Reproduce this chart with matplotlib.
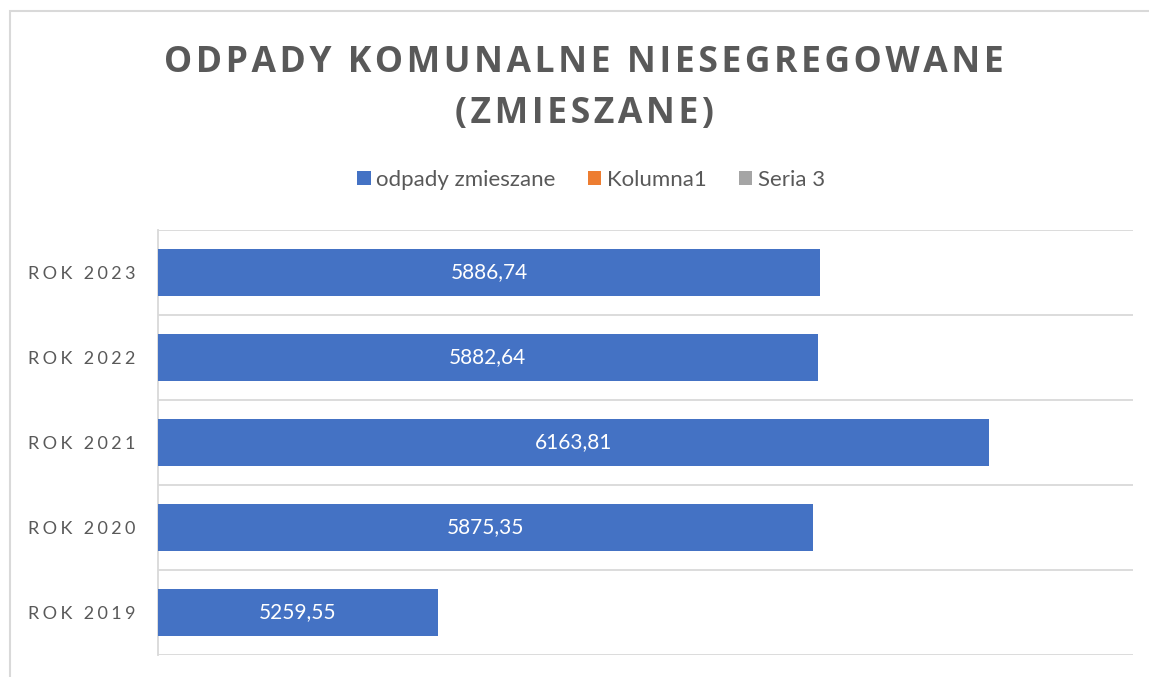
import matplotlib
matplotlib.use('Agg')
import matplotlib.pyplot as plt
from matplotlib.patches import Patch, Rectangle

# data
years = ['ROK 2019', 'ROK 2020', 'ROK 2021', 'ROK 2022', 'ROK 2023']
values = [5259.55, 5875.35, 6163.81, 5882.64, 5886.74]
series_names = ['odpady zmieszane', 'Kolumna1', 'Seria 3']
series_colors = ['#4472C4', '#ED7D31', '#A5A5A5']

grey_txt = '#595959'
grid_col = '#D9D9D9'


def spaced(s, sep='\u2009'):
    # fake letter spacing like in the Excel chart
    return sep.join(list(s))


fig = plt.figure(figsize=(11.49, 6.77), dpi=100, facecolor='white')
ax = fig.add_axes([158 / 1149, 1 - 655 / 677, (1133 - 158) / 1149, (655 - 230) / 677])

y = list(range(len(years)))
ax.barh(y, values, height=0.55, color=series_colors[0], zorder=3)
ax.set_xlim(4800, 6400)
ax.set_ylim(-0.5, len(years) - 0.5)

# category separators
for b in [i - 0.5 for i in range(len(years) + 1)]:
    ax.axhline(b, color=grid_col, lw=1.3, zorder=1)

for sp in ['top', 'right', 'bottom']:
    ax.spines[sp].set_visible(False)
ax.spines['left'].set_color(grid_col)
ax.spines['left'].set_linewidth(1.3)
ax.set_xticks([])
ax.set_yticks(y)
ax.set_yticklabels([spaced(t, '\u2009\u200a') for t in years], family=['Lato', 'DejaVu Sans'],
                   fontsize=13, color=grey_txt)
ax.tick_params(axis='y', length=0, pad=16)

# data labels in the middle of the bars
for yi, v in zip(y, values):
    lbl = f'{v:.2f}'.replace('.', ',')
    ax.text((4800 + v) / 2, yi, lbl, ha='center', va='center', color='white',
            fontsize=15, family=['Lato', 'DejaVu Sans'], zorder=4)

# title
title_font = dict(fontsize=25.6, fontweight='bold', color=grey_txt,
                  family=['Open Sans', 'DejaVu Sans'], ha='center', va='center')
tx = 584 / 1149
fig.text(tx, 1 - 63 / 677, spaced('ODPADY KOMUNALNE NIESEGREGOWANE', '\u200a'), **title_font)
fig.text(tx, 1 - 114 / 677, spaced('(ZMIESZANE)', '\u200a'), **title_font)

# legend
handles = [Patch(facecolor=c, edgecolor='none') for c in series_colors]
fig.legend(handles, series_names, loc='center', bbox_to_anchor=(591 / 1149, 1 - 180 / 677),
           ncol=3, frameon=False, handlelength=0.6, handleheight=0.6, handletextpad=0.25,
           columnspacing=1.45, prop={'family': 'Lato', 'size': 16}, labelcolor=grey_txt)

# chart area border (cut off at right/bottom in the reference)
fig.add_artist(Rectangle((10 / 1149, -0.2), 2, 1.2 - 11 / 677, transform=fig.transFigure,
                         fill=False, edgecolor=grid_col, lw=1.5))

fig.savefig('out.png', dpi=100, facecolor='white')
